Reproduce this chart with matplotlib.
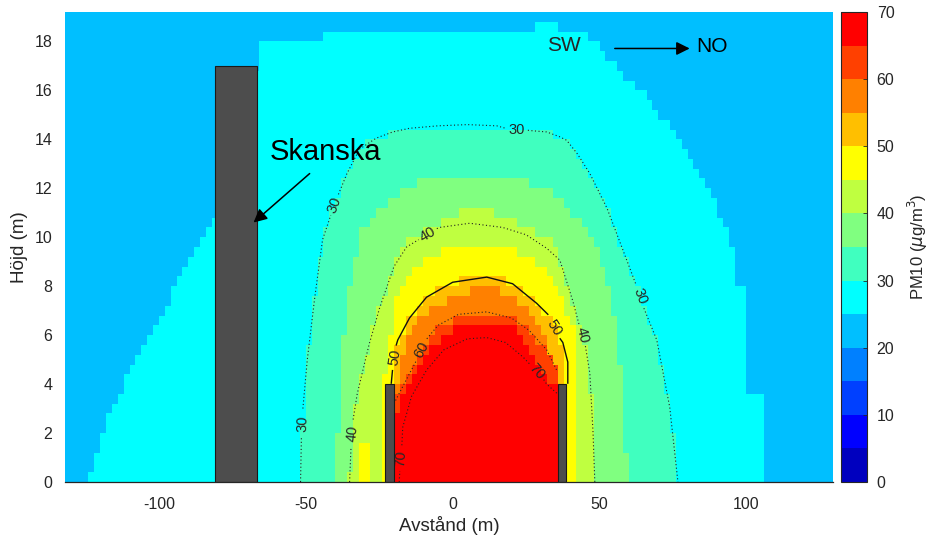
"""PM10 concentration across the street canyon, cross-section SW -> NO."""

import matplotlib

matplotlib.use("Agg")
import matplotlib.pyplot as plt
import numpy as np
from matplotlib.colors import BoundaryNorm, ListedColormap
from matplotlib.path import Path
from matplotlib.patches import Rectangle

plt.rcParams["font.family"] = ["Liberation Sans", "DejaVu Sans"]
plt.rcParams["axes.unicode_minus"] = False

# colour bands, 0-70 ug/m3 in steps of 5 (first 14 rows of MATLAB jet(16))
BAND_EDGES = [0, 5, 10, 15, 20, 25, 30, 35, 40, 45, 50, 55, 60, 65, 70]
BAND_COLORS = [
    (0, 0, 0.75), (0, 0, 1), (0, 0.25, 1), (0, 0.5, 1), (0, 0.75, 1),
    (0, 1, 1), (0.25, 1, 0.75), (0.5, 1, 0.5), (0.75, 1, 0.25), (1, 1, 0),
    (1, 0.75, 0), (1, 0.5, 0), (1, 0.25, 0), (1, 0, 0),
]
BACKGROUND_LEVEL = 20

# outlines of the areas where PM10 >= level
X25 = [-123.5, -122.7, -120.3, -116.9, -111.1, -103.2, -97.4, -92.0, -86.2, -81.0,
       -70.0, -67.0, -66.8, -43.6, -43.6, 27.3, 27.3, 35.4, 35.4, 44.3, 51.1, 59.3,
       67.1, 73.9, 78.4, 84.2, 90.0, 95.4, 95.4, 100.2, 100.2, 106.0, 106.0]
Y25 = [0, 0.5, 1.7, 2.8, 4.2, 6.1, 7.3, 8.5, 9.9, 10.8,
       14.0, 16.9, 17.96, 17.96, 18.45, 18.45, 18.94, 18.94, 18.45, 18.45, 17.55, 16.53,
       15.59, 14.49, 13.55, 12.45, 11.22, 9.47, 8.04, 8.04, 3.55, 3.55, 0]
X30 = [-51.8, -51.1, -49.5, -47.0, -44.3, -40.2, -36.0, -31.7, -26.0, -20.4, -14.7,
       -5.0, 5.0, 15.0, 21.8, 27.0, 32.0, 36.5, 38.8, 42.5, 46.7, 52.5, 57.9, 63.7,
       69.5, 73.9, 76.7]
Y30 = [0, 2.4, 5.0, 7.5, 9.9, 11.3, 12.6, 13.6, 14.05, 14.3, 14.45,
       14.55, 14.6, 14.55, 14.4, 14.35, 14.3, 14.1, 13.96, 13.4, 12.6, 11.2, 9.5, 7.6,
       5.8, 3.06, 0]
X35 = [-39.5, -38.8, -37.5, -35.5, -31.7, -27.3, -22.5, -17.0, -6.8, 21.8, 32.0, 37.5,
       42.2, 46.7, 50.5, 53.5, 56.0, 58.0, 59.6]
Y35 = [0, 3.0, 5.5, 7.8, 10.2, 10.8, 11.4, 11.9, 12.45, 12.45, 11.9, 11.4,
       10.8, 10.2, 9.2, 7.8, 6.0, 3.5, 0]
X40 = [-35.1, -34.3, -32.5, -28.5, -24.9, -20.0, -14.7, -6.8, 2.4, 15.0, 25.2, 33.0,
       36.5, 40.9, 44.0, 46.7, 47.8, 48.4]
Y40 = [0, 2.0, 3.6, 5.6, 7.1, 8.8, 9.9, 10.4, 11.0, 11.0, 10.4, 9.9,
       9.06, 7.4, 6.0, 4.45, 2.0, 0]
X45 = [-23.2, -23.2, -22.5, -21.5, -19.0, -14.7, -8.9, -3.4, 21.8, 27.3, 32.0, 36.5,
       40.9, 42.0, 41.6, 41.6]
Y45 = [0, 4.0, 5.0, 5.8, 7.55, 8.5, 9.06, 9.47, 9.47, 9.06, 8.5, 7.55,
       6.5, 5.0, 4.0, 0]
X45_PATCH = [-31.7, -31.7, -27.3, -27.3]
Y45_PATCH = [0, 1.6, 1.6, 0]
X50 = [-21.0, -21.0, -19.8, -18.7, -14.7, -8.9, 0.0, 11.6, 20.4, 28.6, 32.6, 36.4,
       37.5, 38.7, 38.7, 38.0]
Y50 = [0, 4.0, 5.1, 5.8, 6.7, 7.55, 8.16, 8.4, 8.1, 7.3, 6.8, 5.9,
       5.7, 4.9, 4.0, 0]
X55 = [-20.5, -20.5, -19.0, -17.0, -12.3, -7.8, -1.0, 8.5, 15.0, 20.4, 25.2, 29.6,
       33.0, 35.0, 36.0, 36.0]
Y55 = [0, 2.5, 4.0, 5.4, 6.5, 7.0, 7.5, 7.96, 7.96, 7.5, 7.0, 6.5,
       5.4, 4.6, 4.0, 0]
X60 = [-20.1, -20.1, -19.0, -15.0, -10.6, -5.0, 2.0, 11.6, 20.0, 26.0, 32.0, 35.7, 35.7]
Y60 = [0, 3.0, 3.5, 4.5, 5.4, 6.3, 6.8, 6.95, 6.7, 6.2, 5.4, 4.5, 0]
X65 = [-20.1, -20.1, -17.0, -13.0, -8.0, -3.0, 2.4, 20.4, 24.0, 28.0, 32.0, 35.7, 35.7]
Y65 = [0, 2.5, 3.5, 4.4, 5.4, 5.9, 6.5, 6.5, 5.9, 5.1, 4.3, 3.7, 0]

# contour lines (NaN = break for the inline label)
C30_X = [-51.8, -51.5, np.nan, -51.0, -49.5, -47.0, -44.3, -41.5, np.nan, -38.9, -36.0,
         -31.7, -26.0, -20.4, -14.7, -5.0, 5.0, 15.0, 18.0, np.nan, 25.6, 27.0, 32.0,
         36.5, 38.8, 42.5, 46.7, 52.5, 57.9, 62.3, np.nan, 65.1, 69.5, 73.9, 76.7]
C30_Y = [0, 1.85, np.nan, 3.0, 5.0, 7.5, 9.9, 10.9, np.nan, 11.75, 12.6,
         13.6, 14.05, 14.3, 14.45, 14.55, 14.6, 14.55, 14.45, np.nan, 14.37, 14.35, 14.3,
         14.1, 13.96, 13.4, 12.6, 11.2, 9.5, 8.1, np.nan, 7.1, 5.8, 3.06, 0]
C40_X = [-35.1, -34.6, np.nan, -33.9, -32.5, -28.5, -24.9, -20.0, -15.7, -11.6, np.nan,
         -5.4, -4.4, 5.8, 17.0, 25.0, 32.0, 36.5, 40.9, 43.0, np.nan, 45.2, 46.7, 47.8, 48.4]
C40_Y = [0, 1.45, np.nan, 2.55, 3.6, 5.6, 7.1, 8.8, 9.6, 9.9, np.nan,
         10.35, 10.4, 10.57, 10.4, 10.1, 9.55, 9.06, 7.4, 6.45, np.nan, 5.55, 4.45, 2.0, 0]
C50_X = [-20.9, -20.5, np.nan, -19.2, -18.7, -14.7, -8.9, 0.0, 11.6, 20.4, 28.6, 32.4,
         np.nan, 36.6, 37.5, 39.2, 39.2]
C50_Y = [4.04, 4.55, np.nan, 5.6, 5.8, 6.7, 7.55, 8.16, 8.37, 8.1, 7.3, 6.85,
         np.nan, 5.85, 5.7, 4.9, 4.04]
C60_X = [-20.0, -17.0, -13.5, -12.4, np.nan, -8.8, -5.0, 2.0, 11.6, 20.0, 26.0, 32.0, 35.7]
C60_Y = [3.2, 3.9, 4.7, 4.95, np.nan, 5.85, 6.4, 6.85, 6.95, 6.7, 6.2, 5.4, 4.5]
C70_X = [-18.2, -18.0, np.nan, -17.3, -17.0, -14.0, -8.9, -3.0, 5.0, 11.6, 18.0, 24.0,
         26.2, np.nan, 31.0, 32.0, 35.7]
C70_Y = [0, 0.45, np.nan, 1.5, 2.24, 3.5, 4.57, 5.4, 5.85, 5.9, 5.7, 5.1,
         4.82, np.nan, 4.18, 4.0, 3.6]

LABEL_TEXT = ["30", "30", "30", "30", "40", "40", "40", "50", "50", "60", "70", "70"]
LABEL_X = [-51.1, -40.2, 21.8, 63.7, -34.1, -8.5, 44.0, -19.8, 34.6, -10.6, -17.5, 28.6]
LABEL_Y = [2.4, 11.3, 14.4, 7.6, 2.0, 10.1, 6.0, 5.1, 6.3, 5.4, 0.97, 4.5]
LABEL_ROT = [88, 70, 0, -69, 84, 30, -77, 80, -58, 62, 86, -49]

# buildings
BUILDING_X0 = [-81.0, -23.2, 35.7]
BUILDING_X1 = [-66.5, -20.0, 38.7]
BUILDING_H = [17.0, 4.0, 4.0]

X_TICKS = [-100, -50, 0, 50, 100]
Y_TICKS = [0, 2, 4, 6, 8, 10, 12, 14, 16, 18]
CBAR_TICKS = [0, 10, 20, 30, 40, 50, 60, 70]

TEXT_COLOR = "#262626"


def build_field(xe, ye):
    xc = 0.5 * (xe[1:] + xe[:-1])
    yc = 0.5 * (ye[1:] + ye[:-1])
    gx, gy = np.meshgrid(xc, yc)
    points = np.column_stack([gx.ravel(), gy.ravel()])
    field = np.full(gx.shape, BACKGROUND_LEVEL + 2.5)
    regions = [
        (25, X25, Y25), (30, X30, Y30), (35, X35, Y35), (40, X40, Y40),
        (45, X45, Y45), (45, X45_PATCH, Y45_PATCH), (50, X50, Y50),
        (55, X55, Y55), (60, X60, Y60), (65, X65, Y65),
    ]
    for level, xs, ys in regions:
        verts = np.column_stack([xs + xs[:1], ys + ys[:1]])
        inside = Path(verts).contains_points(points).reshape(gx.shape)
        field[inside] = np.maximum(field[inside], level + 2.5)
    return field


def main():
    fig = plt.figure(figsize=(9.28, 5.42), dpi=100)
    ax = fig.add_axes([65 / 928, 1 - 482 / 542, 768 / 928, 470 / 542])
    cax = fig.add_axes([841 / 928, 1 - 482 / 542, 26 / 928, 470 / 542])

    xe = np.arange(-132, 130.01, 2.0)
    ye = np.arange(0, 19.201, 0.4)
    field = build_field(xe, ye)

    cmap = ListedColormap(BAND_COLORS)
    norm = BoundaryNorm(BAND_EDGES, cmap.N)
    mesh = ax.pcolormesh(xe, ye, field, cmap=cmap, norm=norm, shading="flat")

    dotted = (0, (1, 2.2))
    ax.plot(C30_X, C30_Y, color="#222222", lw=0.8, ls=dotted, zorder=3)
    ax.plot(C40_X, C40_Y, color="#222222", lw=0.8, ls=dotted, zorder=3)
    ax.plot(C50_X, C50_Y, color="#111111", lw=1.0, zorder=3)
    ax.plot(C60_X, C60_Y, color="#222222", lw=0.8, ls=dotted, zorder=3)
    ax.plot(C70_X, C70_Y, color="#222222", lw=0.8, ls=dotted, zorder=3)
    for text, x, y, rot in zip(LABEL_TEXT, LABEL_X, LABEL_Y, LABEL_ROT):
        ax.text(x, y, text, rotation=rot, ha="center", va="center",
                fontsize=10.5, color=TEXT_COLOR, rotation_mode="anchor", zorder=4)

    for x0, x1, h in zip(BUILDING_X0, BUILDING_X1, BUILDING_H):
        ax.add_patch(Rectangle((x0, 0), x1 - x0, h, facecolor="#4d4d4d",
                               edgecolor="#1a1a1a", lw=0.8, zorder=5))

    ax.text(-62.4, 13.5, "Skanska", fontsize=21, ha="left", va="center", zorder=6)
    ax.annotate("", xy=(-67.8, 10.6), xytext=(-48.7, 12.6),
                arrowprops=dict(arrowstyle="-|>", color="black", lw=1.1,
                                mutation_scale=20, shrinkA=0, shrinkB=0), zorder=6)
    ax.text(38.0, 17.84, "SW", fontsize=15, ha="center", va="center", color=TEXT_COLOR, zorder=6)
    ax.annotate("", xy=(80.7, 17.71), xytext=(55.2, 17.71),
                arrowprops=dict(arrowstyle="-|>", color="black", lw=1.1,
                                mutation_scale=20, shrinkA=0, shrinkB=0), zorder=6)
    ax.text(83.1, 17.8, "NO", fontsize=15, ha="left", va="center", color="black", zorder=6)

    ax.set_xlim(-132, 129.5)
    ax.set_ylim(0, 19.2)
    ax.set_xticks(X_TICKS)
    ax.set_yticks(Y_TICKS)
    ax.tick_params(length=0, labelsize=11.5, colors=TEXT_COLOR)
    ax.tick_params(axis="x", pad=11)
    ax.tick_params(axis="y", pad=9)
    for side in ("top", "right", "left"):
        ax.spines[side].set_visible(False)
    ax.spines["bottom"].set_color(TEXT_COLOR)
    ax.spines["bottom"].set_linewidth(0.9)
    ax.spines["bottom"].set_zorder(6)
    ax.set_xlabel("Avstånd (m)", fontsize=13.5, color=TEXT_COLOR, labelpad=3)
    ax.set_ylabel("Höjd (m)", fontsize=13.5, color=TEXT_COLOR, labelpad=5)

    cbar = fig.colorbar(mesh, cax=cax, ticks=CBAR_TICKS)
    cbar.minorticks_off()
    cbar.outline.set_edgecolor(TEXT_COLOR)
    cbar.outline.set_linewidth(0.8)
    cax.tick_params(direction="in", length=3, width=0.6, labelsize=11.5,
                    colors=TEXT_COLOR, pad=7)
    cbar.set_label(r"PM10 ($\mu$g/m$^3$)", fontsize=12, color=TEXT_COLOR, labelpad=8)

    fig.savefig("out.png", dpi=100)
    plt.close(fig)


if __name__ == "__main__":
    main()
